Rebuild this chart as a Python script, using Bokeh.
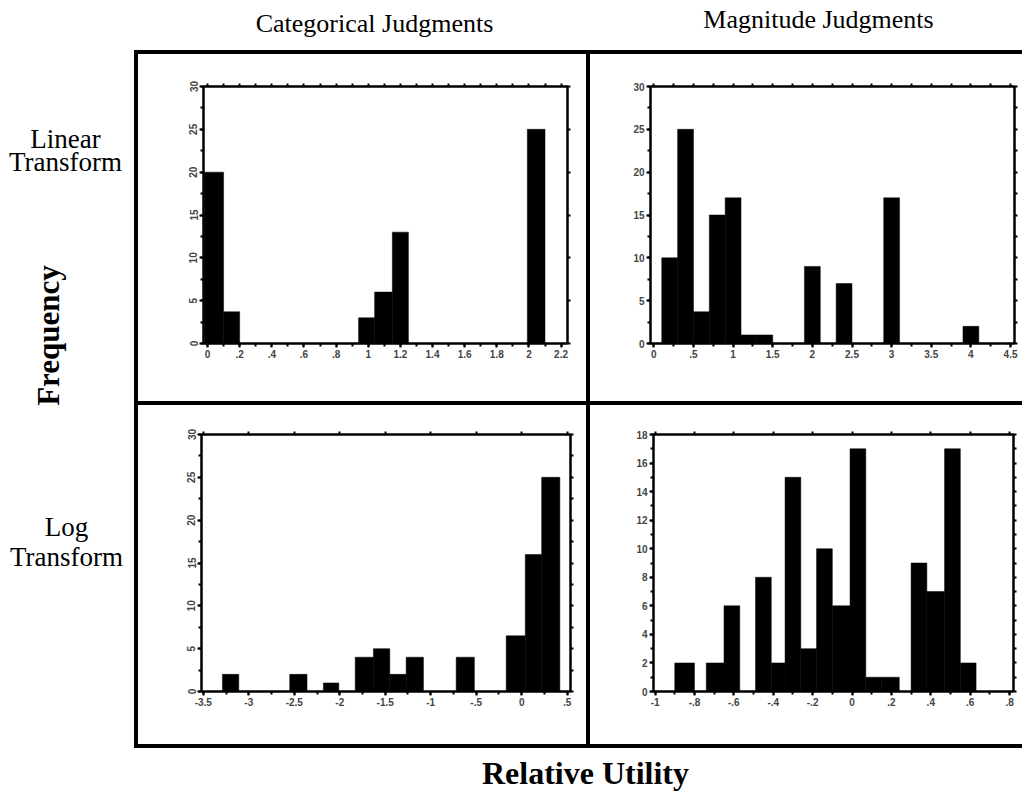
import numpy as np
from bokeh.plotting import figure
from bokeh.layouts import column, row
from bokeh.models import Range1d, LinearAxis, FixedTicker, Spacer
from bokeh.core.properties import value
from bokeh.embed import file_html
from bokeh.resources import INLINE

# ---------------- data ----------------
# Categorical judgments, linear transform
cat_lin_left = [-0.02, 0.10, 0.94, 1.04, 1.15, 1.99]
cat_lin_right = [0.10, 0.20, 1.04, 1.15, 1.25, 2.10]
cat_lin_freq = [20, 3.7, 3, 6, 13, 25]
cat_lin_xticks = [0, 0.2, 0.4, 0.6, 0.8, 1, 1.2, 1.4, 1.6, 1.8, 2, 2.2]
cat_lin_xlabels = ["0", ".2", ".4", ".6", ".8", "1", "1.2", "1.4", "1.6", "1.8", "2", "2.2"]
cat_lin_yticks = [0, 5, 10, 15, 20, 25, 30]
cat_lin_ylabels = ["0", "5", "10", "15", "20", "25", "30"]

# Magnitude judgments, linear transform
mag_lin_left = [0.1, 0.3, 0.5, 0.7, 0.9, 1.1, 1.3, 1.9, 2.3, 2.9, 3.9]
mag_lin_right = [0.3, 0.5, 0.7, 0.9, 1.1, 1.3, 1.5, 2.1, 2.5, 3.1, 4.1]
mag_lin_freq = [10, 25, 3.7, 15, 17, 1, 1, 9, 7, 17, 2]
mag_lin_xticks = [0, 0.5, 1, 1.5, 2, 2.5, 3, 3.5, 4, 4.5]
mag_lin_xlabels = ["0", ".5", "1", "1.5", "2", "2.5", "3", "3.5", "4", "4.5"]
mag_lin_yticks = [0, 5, 10, 15, 20, 25, 30]
mag_lin_ylabels = ["0", "5", "10", "15", "20", "25", "30"]

# Categorical judgments, log transform
cat_log_left = [-3.29, -2.55, -2.18, -1.83, -1.63, -1.45, -1.27, -0.72, -0.17, 0.04, 0.22]
cat_log_right = [-3.11, -2.36, -2.01, -1.63, -1.45, -1.27, -1.08, -0.52, 0.04, 0.22, 0.42]
cat_log_freq = [2, 2, 1, 4, 5, 2, 4, 4, 6.5, 16, 25]
cat_log_xticks = [-3.5, -3, -2.5, -2, -1.5, -1, -0.5, 0, 0.5]
cat_log_xlabels = ["-3.5", "-3", "-2.5", "-2", "-1.5", "-1", "-.5", "0", ".5"]
cat_log_yticks = [0, 5, 10, 15, 20, 25, 30]
cat_log_ylabels = ["0", "5", "10", "15", "20", "25", "30"]

# Magnitude judgments, log transform
mag_log_left = [-0.90, -0.74, -0.65, -0.49, -0.41, -0.34, -0.26, -0.18, -0.10, -0.01,
                0.07, 0.15, 0.30, 0.38, 0.47, 0.55]
mag_log_right = [-0.80, -0.65, -0.57, -0.41, -0.34, -0.26, -0.18, -0.10, -0.01, 0.07,
                 0.15, 0.24, 0.38, 0.47, 0.55, 0.63]
mag_log_freq = [2, 2, 6, 8, 2, 15, 3, 10, 6, 17, 1, 1, 9, 7, 17, 2]
mag_log_xticks = [-1, -0.8, -0.6, -0.4, -0.2, 0, 0.2, 0.4, 0.6, 0.8]
mag_log_xlabels = ["-1", "-.8", "-.6", "-.4", "-.2", "0", ".2", ".4", ".6", ".8"]
mag_log_yticks = [0, 2, 4, 6, 8, 10, 12, 14, 16, 18]
mag_log_ylabels = ["0", "2", "4", "6", "8", "10", "12", "14", "16", "18"]

col_titles = ["Categorical Judgments", "Magnitude Judgments"]
row_titles = [["Linear", "Transform"], ["Log", "Transform"]]
y_title = "Frequency"
x_title = "Relative Utility"

SERIF = value("Liberation Serif")


def steps(a, b, s):
    n = int(round((b - a) / s))
    return [round(a + i * s, 4) for i in range(n + 1)]


def style_axis(ax):
    ax.axis_line_width = 2
    ax.axis_line_color = "black"
    ax.major_tick_line_width = 2
    ax.minor_tick_line_width = 2
    ax.major_tick_in = 0
    ax.minor_tick_in = 0
    ax.major_tick_out = 4
    ax.minor_tick_out = 3
    ax.major_label_text_font = "Liberation Sans"
    ax.major_label_text_font_style = "bold"
    ax.major_label_text_font_size = "10px"
    ax.major_label_standoff = 2


def panel(w, h, borders, xr, yr, left, right, freq, xticks, xlabels, xminor_step,
          top_step, yticks, ylabels, yminor_step, right_step, vertical_labels):
    bl, br, bt, bb = borders
    p = figure(width=w, height=h, title=None, x_range=Range1d(*xr), y_range=Range1d(*yr),
               toolbar_location=None, output_backend="svg",
               x_axis_location=None, y_axis_location=None,
               min_border_left=bl, min_border_right=br, min_border_top=bt, min_border_bottom=bb,
               outline_line_color="black", outline_line_width=2,
               background_fill_color="white", border_fill_color="white")
    p.grid.visible = False
    p.quad(left=left, right=right, bottom=0, top=freq,
           fill_color="black", line_color="black", line_width=0.5)

    xminor = steps(xticks[0], xticks[-1], xminor_step)
    bx = LinearAxis(ticker=FixedTicker(ticks=xticks, minor_ticks=xminor),
                    major_label_overrides=dict(zip(xticks, xlabels)))
    style_axis(bx)
    p.add_layout(bx, "below")

    yminor = steps(yticks[0], yticks[-1], yminor_step)
    ly = LinearAxis(ticker=FixedTicker(ticks=yticks, minor_ticks=yminor),
                    major_label_overrides=dict(zip(yticks, ylabels)))
    style_axis(ly)
    if vertical_labels:
        ly.major_label_orientation = "vertical"
    p.add_layout(ly, "left")

    # tick-only axes on top and right (minor ticks only, so no labels)
    tx = LinearAxis(ticker=FixedTicker(ticks=[], minor_ticks=steps(xticks[0], xticks[-1], top_step)))
    style_axis(tx)
    p.add_layout(tx, "above")

    ry = LinearAxis(ticker=FixedTicker(ticks=[], minor_ticks=steps(yticks[0], yticks[-1], right_step)))
    style_axis(ry)
    p.add_layout(ry, "right")
    return p


def black(w, h):
    return Spacer(width=w, height=h, margin=0,
                  styles={"background-color": "black"})


def canvas(w, h):
    c = figure(width=w, height=h, title=None, x_range=Range1d(0, w), y_range=Range1d(0, h),
               toolbar_location=None, output_backend="svg",
               x_axis_location=None, y_axis_location=None, min_border=0,
               outline_line_color=None, background_fill_color="white",
               border_fill_color="white")
    c.grid.visible = False
    return c


# ---------------- panels ----------------
p1 = panel(448, 347, (65, 19, 32, 57), (-0.025, 2.24), (0, 30),
           cat_lin_left, cat_lin_right, cat_lin_freq, cat_lin_xticks, cat_lin_xlabels, 0.1,
           0.1, cat_lin_yticks, cat_lin_ylabels, 2.5, 5, True)
p2 = panel(432, 347, (60, 8, 31, 58), (-0.042, 4.55), (0, 30),
           mag_lin_left, mag_lin_right, mag_lin_freq, mag_lin_xticks, mag_lin_xlabels, 0.25,
           0.25, mag_lin_yticks, mag_lin_ylabels, 2.5, 2.5, False)
p3 = panel(448, 339, (63, 16, 29, 53), (-3.52, 0.537), (0, 30),
           cat_log_left, cat_log_right, cat_log_freq, cat_log_xticks, cat_log_xlabels, 0.25,
           0.5, cat_log_yticks, cat_log_ylabels, 2.5, 2.5, True)
p4 = panel(432, 339, (63, 9, 29, 53), (-1.008, 0.82), (0, 18),
           mag_log_left, mag_log_right, mag_log_freq, mag_log_xticks, mag_log_xlabels, 0.1,
           0.2, mag_log_yticks, mag_log_ylabels, 1, 1, False)

# ---------------- text bands ----------------
header = canvas(1022, 50)
header.text(x=[374, 818], y=[27, 31], text=col_titles, text_font=SERIF,
            text_font_size="26px", text_align="center", text_baseline="middle",
            text_color="black")

left_band = canvas(134, 698)
left_band.text(x=[65, 65, 66, 66], y=[610, 587, 222, 192],
               text=[row_titles[0][0], row_titles[0][1], row_titles[1][0], row_titles[1][1]],
               text_font=SERIF, text_font_size="27px", text_align="center",
               text_baseline="middle", text_color="black")
left_band.text(x=[48], y=[413], text=[y_title], angle=np.pi / 2, text_font=SERIF,
               text_font_size="31px", text_font_style="bold", text_align="center",
               text_baseline="middle", text_color="black")

footer = canvas(1022, 44)
footer.text(x=[585], y=[20], text=[x_title], text_font=SERIF, text_font_size="32px",
            text_font_style="bold", text_align="center", text_baseline="middle",
            text_color="black")

framed = column(
    black(888, 4),
    row(black(4, 347), p1, black(4, 347), p2),
    black(888, 4),
    row(black(4, 339), p3, black(4, 339), p4),
    black(888, 4),
)

layout = column(header, row(left_band, framed), footer)

open("out.html", "w").write(file_html(layout, INLINE))
